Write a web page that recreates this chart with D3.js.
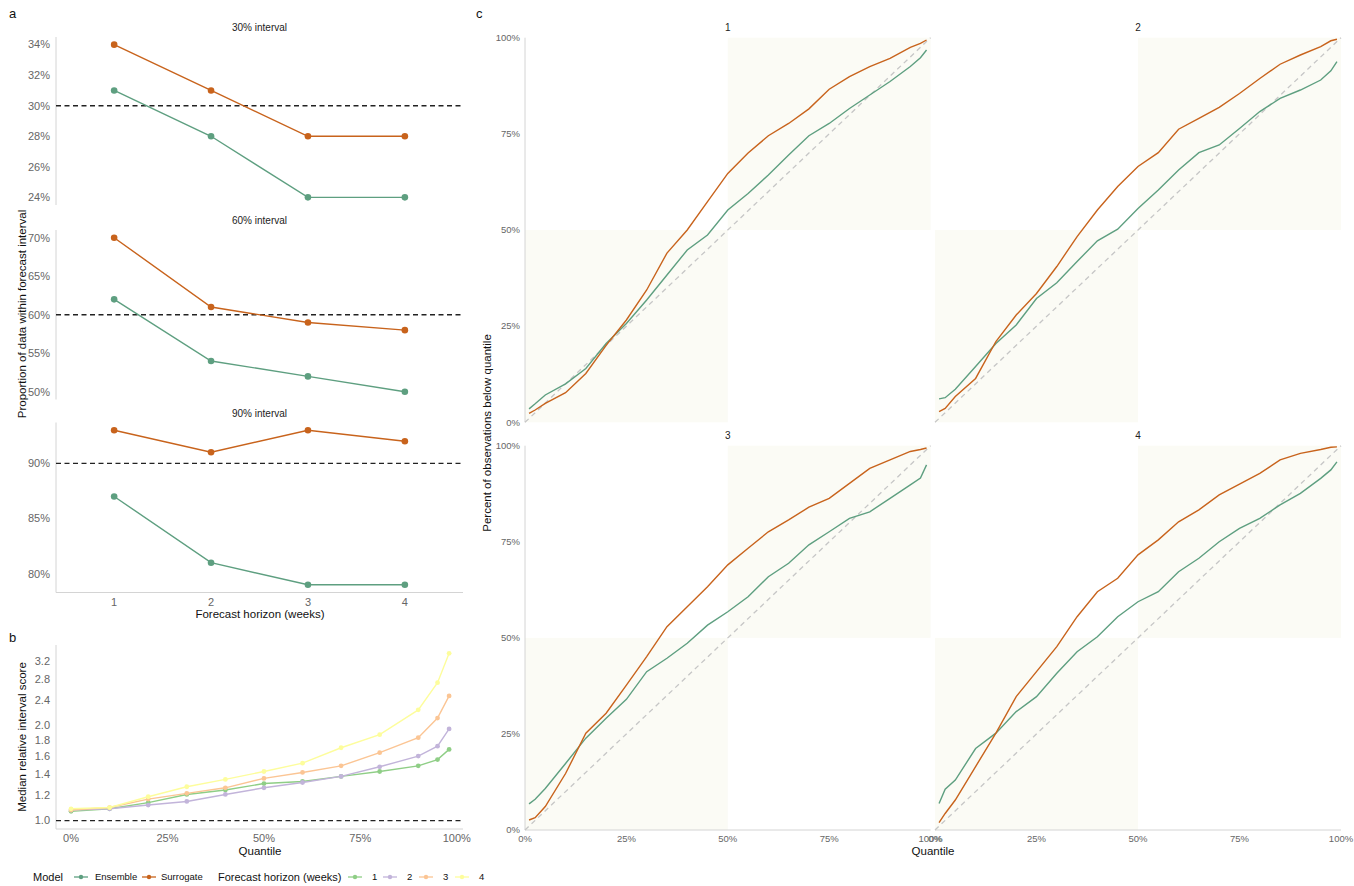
<!DOCTYPE html>
<html>
<head>
<meta charset="utf-8">
<script src="https://cdn.jsdelivr.net/npm/d3@7"></script>
<style>
  body { margin: 0; background: #fff; }
  svg { font-family: "Liberation Sans", Arial, sans-serif; }
  .tick-label { fill: #666; font-size: 11px; }
  .tick-small { fill: #666; font-size: 9.5px; }
  .axis-title { fill: #111; font-size: 11.5px; }
  .strip { fill: #222; font-size: 10px; }
  .tag { fill: #111; font-size: 13px; }
</style>
</head>
<body>
<div id="chart"></div>
<script>
// ---------- data ----------
let horizons = [1, 2, 3, 4];
let intervalNames = ["30% interval", "60% interval", "90% interval"];
let intervalTargets = [30, 60, 90];
let coverageEnsemble = [[31, 28, 24, 24], [62, 54, 52, 50], [87, 81, 79, 79]];
let coverageSurrogate = [[34, 31, 28, 28], [70, 61, 59, 58], [93, 91, 93, 92]];
let coverageTicks = [[24, 26, 28, 30, 32, 34], [50, 55, 60, 65, 70], [80, 85, 90]];

let quantilesB = [0, 0.1, 0.2, 0.3, 0.4, 0.5, 0.6, 0.7, 0.8, 0.9, 0.95, 0.98];
let scoreH1 = [1.07, 1.09, 1.14, 1.21, 1.25, 1.31, 1.33, 1.38, 1.43, 1.49, 1.56, 1.68];
let scoreH2 = [1.08, 1.09, 1.12, 1.15, 1.21, 1.27, 1.32, 1.38, 1.48, 1.60, 1.72, 1.95];
let scoreH3 = [1.08, 1.10, 1.17, 1.22, 1.27, 1.36, 1.42, 1.49, 1.64, 1.83, 2.11, 2.48];
let scoreH4 = [1.09, 1.10, 1.19, 1.28, 1.35, 1.43, 1.52, 1.70, 1.87, 2.24, 2.73, 3.38];
let scoreTicks = [1.0, 1.2, 1.4, 1.6, 1.8, 2.0, 2.4, 2.8, 3.2];

let quantilesC = [0.01, 0.025, 0.05, 0.1, 0.15, 0.2, 0.25, 0.3, 0.35, 0.4, 0.45, 0.5,
                  0.55, 0.6, 0.65, 0.7, 0.75, 0.8, 0.85, 0.9, 0.95, 0.975, 0.99];
let belowEnsemble1 = [0.035, 0.048, 0.071, 0.10, 0.14, 0.205, 0.257, 0.318, 0.383, 0.448, 0.487, 0.552,
                      0.595, 0.643, 0.695, 0.745, 0.777, 0.816, 0.851, 0.886, 0.925, 0.948, 0.968];
let belowSurrogate1 = [0.023, 0.032, 0.049, 0.077, 0.127, 0.20, 0.266, 0.344, 0.44, 0.50, 0.574, 0.647,
                       0.70, 0.745, 0.777, 0.815, 0.866, 0.899, 0.925, 0.946, 0.975, 0.985, 0.994];
let belowEnsemble2 = [0.061, 0.064, 0.086, 0.145, 0.205, 0.253, 0.322, 0.363, 0.418, 0.472, 0.502, 0.556,
                      0.604, 0.656, 0.701, 0.721, 0.764, 0.808, 0.842, 0.864, 0.89, 0.914, 0.938];
let belowSurrogate2 = [0.028, 0.036, 0.067, 0.114, 0.21, 0.279, 0.335, 0.405, 0.483, 0.552, 0.613, 0.665,
                       0.701, 0.762, 0.79, 0.819, 0.855, 0.894, 0.931, 0.955, 0.977, 0.992, 0.996];
let belowEnsemble3 = [0.068, 0.08, 0.108, 0.173, 0.239, 0.291, 0.34, 0.412, 0.447, 0.486, 0.533, 0.568,
                      0.607, 0.659, 0.694, 0.742, 0.776, 0.811, 0.828, 0.863, 0.898, 0.916, 0.95];
let belowSurrogate3 = [0.026, 0.032, 0.061, 0.147, 0.252, 0.304, 0.377, 0.451, 0.529, 0.581, 0.633, 0.69,
                       0.733, 0.776, 0.807, 0.84, 0.863, 0.902, 0.941, 0.963, 0.985, 0.99, 0.994];
let belowEnsemble4 = [0.069, 0.106, 0.13, 0.212, 0.252, 0.308, 0.347, 0.408, 0.464, 0.503, 0.555, 0.594,
                      0.62, 0.672, 0.707, 0.75, 0.785, 0.811, 0.846, 0.876, 0.915, 0.937, 0.958];
let belowSurrogate4 = [0.019, 0.043, 0.078, 0.165, 0.252, 0.347, 0.412, 0.477, 0.555, 0.62, 0.655, 0.716,
                       0.755, 0.802, 0.833, 0.872, 0.90, 0.928, 0.963, 0.98, 0.99, 0.996, 0.997];
let pctTicks = [0, 0.25, 0.5, 0.75, 1];

// ---------- styles ----------
let ensembleColor = "#5e9f80", surrogateColor = "#c8631c";
let horizonColors = ["#8fce86", "#c2b4da", "#fbc594", "#fdfd9c"];
let axisColor = "#d4d4d4";

let svg = d3.select("#chart").append("svg")
    .attr("width", 1354)
    .attr("height", 886);

function tag(x, y, s) {
    svg.append("text").attr("class", "tag").attr("x", x).attr("y", y).text(s);
}
function pad(lo, hi) {
    let e = (hi - lo) * 0.05;
    return [lo - e, hi + e];
}

// ---------- panel a ----------
tag(9, 18, "a");
let xA = d3.scaleLinear().domain([0.4, 4.6]).range([56, 463]);
let facetA = [[37, 205], [230, 399.5], [422.5, 592.5]];

intervalNames.forEach(function(name, i) {
    let top = facetA[i][0], bottom = facetA[i][1];
    let vals = coverageEnsemble[i].concat(coverageSurrogate[i], [intervalTargets[i]]);
    let y = d3.scaleLinear().domain(pad(d3.min(vals), d3.max(vals))).range([bottom, top]);
    let g = svg.append("g");

    g.append("text").attr("class", "strip")
        .attr("x", (xA.range()[0] + xA.range()[1]) / 2).attr("y", top - 6)
        .attr("text-anchor", "middle").text(name);

    g.append("line").attr("x1", 56).attr("x2", 56).attr("y1", top).attr("y2", bottom)
        .attr("stroke", axisColor);
    g.selectAll(".yt").data(coverageTicks[i]).enter().append("text")
        .attr("class", "tick-label")
        .attr("x", 50).attr("y", function(d) { return y(d); })
        .attr("dy", "0.35em").attr("text-anchor", "end")
        .text(function(d) { return d + "%"; });

    g.append("line").attr("x1", 56).attr("x2", 463)
        .attr("y1", y(intervalTargets[i])).attr("y2", y(intervalTargets[i]))
        .attr("stroke", "#222").attr("stroke-width", 1.3).attr("stroke-dasharray", "5,3.5");

    let line = d3.line().x(function(d, j) { return xA(horizons[j]); }).y(function(d) { return y(d); });
    [[coverageEnsemble[i], ensembleColor], [coverageSurrogate[i], surrogateColor]].forEach(function(s) {
        g.append("path").attr("d", line(s[0])).attr("fill", "none")
            .attr("stroke", s[1]).attr("stroke-width", 1.4);
        g.selectAll(null).data(s[0]).enter().append("circle")
            .attr("cx", function(d, j) { return xA(horizons[j]); })
            .attr("cy", function(d) { return y(d); })
            .attr("r", 3.3).attr("fill", s[1]);
    });

    if (i == 2) {
        g.append("line").attr("x1", 56).attr("x2", 463).attr("y1", bottom).attr("y2", bottom)
            .attr("stroke", axisColor);
        g.selectAll(".xt").data(horizons).enter().append("text")
            .attr("class", "tick-label")
            .attr("x", function(d) { return xA(d); }).attr("y", bottom + 13)
            .attr("text-anchor", "middle").text(function(d) { return d; });
    }
});

svg.append("text").attr("class", "axis-title")
    .attr("x", 260).attr("y", 618).attr("text-anchor", "middle")
    .text("Forecast horizon (weeks)");
svg.append("text").attr("class", "axis-title")
    .attr("transform", "translate(26,314) rotate(-90)").attr("text-anchor", "middle")
    .text("Proportion of data within forecast interval");

// ---------- panel b ----------
tag(9, 642, "b");
let xB = d3.scaleLinear().domain([-0.039, 1.016]).range([56, 463]);
let allScores = scoreH1.concat(scoreH2, scoreH3, scoreH4, [1]);
let lnLo = Math.log(d3.min(allScores)), lnHi = Math.log(d3.max(allScores));
let lnPad = (lnHi - lnLo) * 0.05;
let yB = d3.scaleLog().domain([Math.exp(lnLo - lnPad), Math.exp(lnHi + lnPad)]).range([829, 645]);

svg.append("line").attr("x1", 56).attr("x2", 56).attr("y1", 645).attr("y2", 829).attr("stroke", axisColor);
svg.append("line").attr("x1", 56).attr("x2", 463).attr("y1", 829).attr("y2", 829).attr("stroke", axisColor);
svg.selectAll(".ybt").data(scoreTicks).enter().append("text")
    .attr("class", "tick-label")
    .attr("x", 50).attr("y", function(d) { return yB(d); })
    .attr("dy", "0.35em").attr("text-anchor", "end")
    .text(function(d) { return d.toFixed(1); });
svg.selectAll(".xbt").data(pctTicks).enter().append("text")
    .attr("class", "tick-label")
    .attr("x", function(d) { return xB(d); }).attr("y", 842)
    .attr("text-anchor", "middle").text(function(d) { return (d * 100) + "%"; });

svg.append("line").attr("x1", 56).attr("x2", 463).attr("y1", yB(1)).attr("y2", yB(1))
    .attr("stroke", "#222").attr("stroke-width", 1.3).attr("stroke-dasharray", "5,3.5");

let lineB = d3.line().x(function(d, j) { return xB(quantilesB[j]); }).y(function(d) { return yB(d); });
[scoreH1, scoreH2, scoreH3, scoreH4].forEach(function(s, k) {
    svg.append("path").attr("d", lineB(s)).attr("fill", "none")
        .attr("stroke", horizonColors[k]).attr("stroke-width", 1.4);
    svg.selectAll(null).data(s).enter().append("circle")
        .attr("cx", function(d, j) { return xB(quantilesB[j]); })
        .attr("cy", function(d) { return yB(d); })
        .attr("r", 2.4).attr("fill", horizonColors[k]);
});

svg.append("text").attr("class", "axis-title")
    .attr("x", 260).attr("y", 855).attr("text-anchor", "middle").text("Quantile");
svg.append("text").attr("class", "axis-title")
    .attr("transform", "translate(26,737) rotate(-90)").attr("text-anchor", "middle")
    .text("Median relative interval score");

// ---------- legend ----------
let legend = svg.append("g").attr("transform", "translate(0,877)");
function legendKey(x, color) {
    legend.append("line").attr("x1", x).attr("x2", x + 14).attr("y1", 0).attr("y2", 0)
        .attr("stroke", color).attr("stroke-width", 1.3);
    legend.append("circle").attr("cx", x + 7).attr("cy", 0).attr("r", 2.2).attr("fill", color);
}
function legendText(x, s, size) {
    legend.append("text").attr("x", x).attr("y", 0).attr("dy", "0.35em")
        .style("font-size", size + "px").attr("fill", "#111").text(s);
}
legendText(33, "Model", 11);
legendKey(74, ensembleColor); legendText(95, "Ensemble", 9.5);
legendKey(142, surrogateColor); legendText(161, "Surrogate", 9.5);
legendText(218, "Forecast horizon (weeks)", 11);
let hx = [348, 383, 419, 455];
horizons.forEach(function(h, k) {
    legendKey(hx[k], horizonColors[k]);
    legendText(hx[k] + 24, h, 9.5);
});

// ---------- panel c ----------
tag(476, 18, "c");
let colsC = [[525, 930.6], [935, 1341]];
let rowsC = [[37.7, 422.3], [445.7, 830]];
let ensembleC = [belowEnsemble1, belowEnsemble2, belowEnsemble3, belowEnsemble4];
let surrogateC = [belowSurrogate1, belowSurrogate2, belowSurrogate3, belowSurrogate4];

horizons.forEach(function(h, k) {
    let col = k % 2, row = Math.floor(k / 2);
    let x = d3.scaleLinear().domain([0, 1]).range(colsC[col]);
    let y = d3.scaleLinear().domain([0, 1]).range([rowsC[row][1], rowsC[row][0]]);
    let g = svg.append("g");

    // shaded quadrants
    [[0, 0.5], [0.5, 1]].forEach(function(r) {
        g.append("rect").attr("x", x(r[0])).attr("y", y(r[1]))
            .attr("width", x(r[1]) - x(r[0])).attr("height", y(r[0]) - y(r[1]))
            .attr("fill", "#fbfbf5");
    });

    g.append("text").attr("class", "strip")
        .attr("x", x(0.5)).attr("y", rowsC[row][0] - 7)
        .attr("text-anchor", "middle").text(h);

    if (col == 0) {
        g.append("line").attr("x1", x(0)).attr("x2", x(0)).attr("y1", y(0)).attr("y2", y(1))
            .attr("stroke", axisColor);
        g.selectAll(".yct").data(pctTicks).enter().append("text")
            .attr("class", "tick-small")
            .attr("x", x(0) - 5).attr("y", function(d) { return y(d); })
            .attr("dy", "0.35em").attr("text-anchor", "end")
            .text(function(d) { return (d * 100) + "%"; });
    }
    if (row == 1) {
        g.append("line").attr("x1", x(0)).attr("x2", x(1)).attr("y1", y(0)).attr("y2", y(0))
            .attr("stroke", axisColor);
        g.selectAll(".xct").data(pctTicks).enter().append("text")
            .attr("class", "tick-small")
            .attr("x", function(d) { return x(d); }).attr("y", y(0) + 12)
            .attr("text-anchor", "middle").text(function(d) { return (d * 100) + "%"; });
    }

    g.append("line").attr("x1", x(0)).attr("y1", y(0)).attr("x2", x(1)).attr("y2", y(1))
        .attr("stroke", "#c6c6c6").attr("stroke-width", 1.3).attr("stroke-dasharray", "5,4");

    let line = d3.line().x(function(d, j) { return x(quantilesC[j]); }).y(function(d) { return y(d); });
    g.append("path").attr("d", line(ensembleC[k])).attr("fill", "none")
        .attr("stroke", ensembleColor).attr("stroke-width", 1.4);
    g.append("path").attr("d", line(surrogateC[k])).attr("fill", "none")
        .attr("stroke", surrogateColor).attr("stroke-width", 1.4);
});

svg.append("text").attr("class", "axis-title")
    .attr("x", 933).attr("y", 855).attr("text-anchor", "middle").text("Quantile");
svg.append("text").attr("class", "axis-title")
    .attr("transform", "translate(491,433) rotate(-90)").attr("text-anchor", "middle")
    .text("Percent of observations below quantile");
</script>
</body>
</html>
